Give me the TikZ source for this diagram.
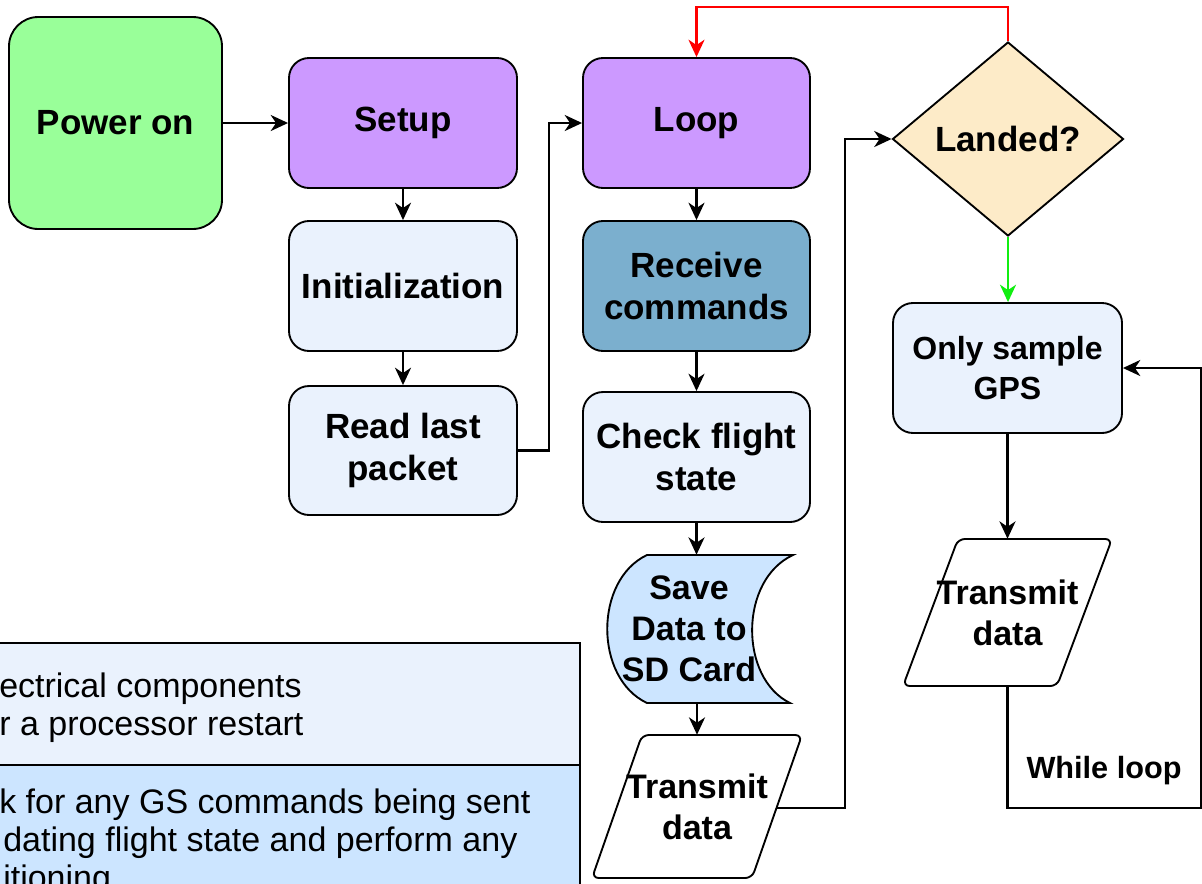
\documentclass[tikz,border=0pt]{standalone}
\usepackage{fontspec}
\setmainfont{Liberation Sans}
\usetikzlibrary{arrows.meta,shapes.geometric}
\newcommand\pxu{0.75pt}
\newcommand\bigfnt{\fontsize{26.25}{31.5}\selectfont\bfseries}
\newcommand\savefnt{\fontsize{25.5}{30.75}\selectfont\bfseries}
\newcommand\gpsfnt{\fontsize{24}{29.5}\selectfont\bfseries}
\newcommand\whilefnt{\fontsize{23}{27}\selectfont\bfseries}
\newcommand\legfnt{\fontsize{25.5}{28.5}\selectfont}
\definecolor{cgreen}{HTML}{99FF99}
\definecolor{cpurple}{HTML}{CC99FF}
\definecolor{clight}{HTML}{EAF2FD}
\definecolor{cteal}{HTML}{7BAFCE}
\definecolor{cblue}{HTML}{CCE5FF}
\definecolor{cdiam}{HTML}{FDEBC8}
\definecolor{cred}{HTML}{FF0000}
\definecolor{cgrn}{HTML}{11EE11}
\tikzset{
  box/.style={rectangle, rounded corners=15pt, draw=black, line width=1.4pt,
    minimum width=228*\pxu, minimum height=130*\pxu, inner sep=0pt,
    align=center, font=\bigfnt},
  shapeline/.style={draw=black, line width=1.4pt},
  txt/.style={inner sep=0pt, align=center},
  legtext/.style={inner sep=0pt, anchor=base west, font=\legfnt},
  arr/.style={line width=1.9pt, -{Stealth[length=13pt, width=12pt, inset=4pt]}},
}
\begin{document}
\begin{tikzpicture}[x=0.75pt, y=-0.75pt]
\useasboundingbox (0,0) rectangle (1202,883);
\clip (0,0) rectangle (1202,883);
\fill[white] (0,0) rectangle (1202,883);

% legend
\path[shapeline, fill=clight] (-10,643) rectangle (580,765);
\path[shapeline, fill=cblue] (-10,765) rectangle (580,900);
\node[legtext] (la) at (-1,697) {ectrical components};
\node[legtext] (lb) at (-1,735) {r a processor restart};
\node[legtext] (lc) at (-1,813) {k for any GS commands being sent};
\node[legtext] (ld) at (3,851) {dating flight state and perform any};
\node[legtext] (le) at (3,889) {itioning};

% left column
\node[box, fill=cgreen, rounded corners=22pt, minimum width=213*\pxu, minimum height=212*\pxu] (power) at (115.5,123) {Power on};
\node[box, fill=cpurple] (setup) at (403,123) {Setup};
\node[box, fill=clight] (init) at (403,286) {Initialization};
\node[box, fill=clight, minimum height=129*\pxu] (read) at (403,450.5) {Read last\\packet};

% middle column
\node[box, fill=cpurple, minimum width=227*\pxu] (loop) at (696.5,123) {Loop};
\node[box, fill=cteal, minimum width=227*\pxu] (recv) at (696.5,286) {Receive\\commands};
\node[box, fill=clight, minimum width=227*\pxu] (check) at (696.5,457) {Check flight\\state};

\path[shapeline, fill=cblue] (647,555) -- (793,555) .. controls (739,580) and (739,678) .. (790,703)
  -- (647,703) .. controls (594,678) and (594,580) .. (647,555) -- cycle;
\node[txt, font=\savefnt, minimum height=148*\pxu] (save) at (689,629) {Save\\Data to\\SD Card};

\path[shapeline, fill=white, rounded corners=5pt] (642,735) -- (802,735) -- (752,878) -- (592,878) -- cycle;
\node[txt, font=\savefnt, minimum width=160*\pxu, minimum height=143*\pxu] (tx1) at (697,806.5) {Transmit\\data};
\coordinate (tx1r) at (776.5,808);

% right column
\node[diamond, aspect=1.19, draw=black, line width=1.4pt, fill=cdiam, minimum width=231*\pxu, minimum height=194*\pxu, inner sep=0pt, font=\bigfnt] (landed) at (1008,139) {Landed?};
\node[box, fill=clight, minimum width=229*\pxu, font=\gpsfnt] (gps) at (1007.5,368) {Only sample\\GPS};

\path[shapeline, fill=white, rounded corners=5pt] (958,539) -- (1112,539) -- (1057,686) -- (903,686) -- cycle;
\node[txt, font=\savefnt, minimum width=154*\pxu, minimum height=147*\pxu] (tx2) at (1007.5,612.5) {Transmit\\data};
\coordinate (wl) at (1201,808);
\node[txt, font=\whilefnt, anchor=base] (wlab) at (1104,778) {While loop};

% connectors
\draw[arr] (power.east) -- (setup.west);
\draw[arr] (setup.south) -- (init.north);
\draw[arr] (init.south) -- (read.north);
\draw[arr] (read.east) -- ++(31,0) |- (loop.west);
\draw[arr] (loop.south) -- (recv.north);
\draw[arr] (recv.south) -- (check.north);
\draw[arr] (check.south) -- (check.south |- save.north);
\draw[arr] (save.south -| tx1.north) -- (tx1.north);
\draw[arr] (tx1r) -- ++(68.5,0) |- (landed.west);
\draw[arr, draw=cred] (landed.north) -- ++(0,-34) -| (loop.north);
\draw[arr, draw=cgrn] (landed.south) -- (landed.south |- gps.north);
\draw[arr] (gps.south) -- (tx2.north);
\draw[arr] (tx2.south) |- (wl) |- (gps.east);
\end{tikzpicture}
\end{document}
